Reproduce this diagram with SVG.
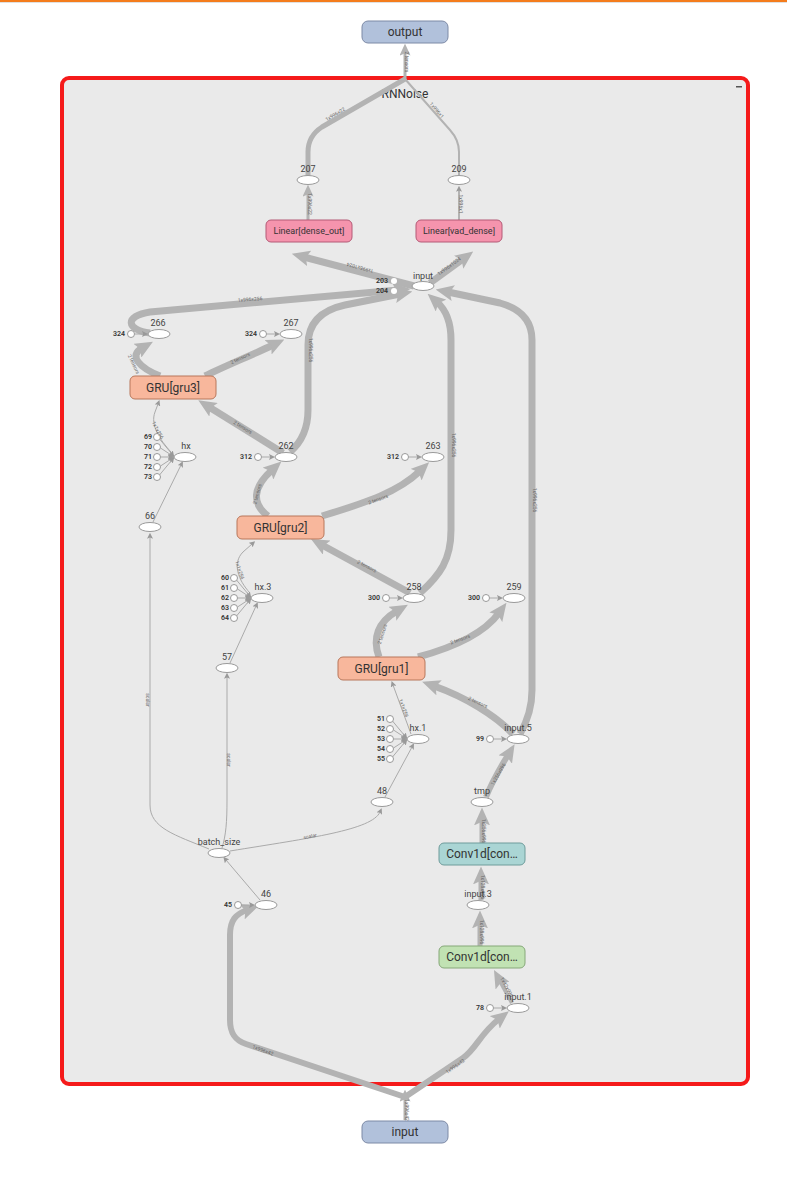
<svg xmlns="http://www.w3.org/2000/svg" width="787" height="1181" viewBox="0 0 787 1181">
  <style>
    text { font-family: Roboto, "Liberation Sans", sans-serif; fill: #333; }
    .op { stroke-width: 1; }
    .io { fill: #b1c1db; stroke: #7d8aa6; }
    .lin { fill: #f594ad; stroke: #b45a76; }
    .gru { fill: #f8b79c; stroke: #b8775b; }
    .cv1 { fill: #aad5d4; stroke: #6e9c9b; }
    .cv0 { fill: #c1e2b3; stroke: #86a879; }
    .nm { font-size: 12px; text-anchor: middle; dominant-baseline: central; }
    .nms { font-size: 9px; text-anchor: middle; dominant-baseline: central; }
    .el { fill: #fff; stroke: #9a9a9a; stroke-width: 1; }
    .lbl { font-size: 9px; text-anchor: middle; fill: #444; }
    .cst { fill: #fff; stroke: #999; stroke-width: 1; }
    .cl { font-size: 7px; font-weight: 600; text-anchor: end; dominant-baseline: central; fill: #333; }
    .e { fill: none; stroke: #b3b3b3; }
    .w7 { stroke-width: 7; }
    .w6 { stroke-width: 6; }
    .w5 { stroke-width: 5; }
    .w4 { stroke-width: 4; }
    .w3 { stroke-width: 3; }
    .w2 { stroke-width: 2; }
    .w1 { stroke-width: 1; stroke: #aaa; }
    .el-t { font-size: 5px; fill: #666; text-anchor: middle; dominant-baseline: central; }
  </style>
  <defs>
    <marker id="ab" viewBox="0 0 10 10" refX="3" refY="5" markerWidth="18" markerHeight="16" markerUnits="userSpaceOnUse" orient="auto" preserveAspectRatio="none">
      <path d="M0,0 L10,5 L0,10 L2,5 z" fill="#b3b3b3"/>
    </marker>
    <marker id="am" viewBox="0 0 10 10" refX="3" refY="5" markerWidth="12" markerHeight="11" markerUnits="userSpaceOnUse" orient="auto" preserveAspectRatio="none">
      <path d="M0,0 L10,5 L0,10 L2,5 z" fill="#b3b3b3"/>
    </marker>
    <marker id="as" viewBox="0 0 10 10" refX="3" refY="5" markerWidth="6" markerHeight="6" markerUnits="userSpaceOnUse" orient="auto" preserveAspectRatio="none">
      <path d="M0,0 L10,5 L0,10 L2,5 z" fill="#999"/>
    </marker>
    <!-- constant input feeding an op ellipse from the left -->
    <g id="k1">
      <circle class="cst" cx="-28" cy="0" r="3.5"/>
      <path class="e w1" d="M-24.5,0 L-15.2,0" marker-end="url(#as)"/>
    </g>
    <!-- five constant inputs fanning into an op ellipse -->
    <g id="k5">
      <circle class="cst" cx="-28" cy="-20" r="3.5"/>
      <circle class="cst" cx="-28" cy="-10" r="3.5"/>
      <circle class="cst" cx="-28" cy="0" r="3.5"/>
      <circle class="cst" cx="-28" cy="10" r="3.5"/>
      <circle class="cst" cx="-28" cy="20" r="3.5"/>
      <path class="e w1" d="M-25.5,-18 L-13.4,-3.4" marker-end="url(#as)"/>
      <path class="e w1" d="M-24.5,-9 L-14.4,-2.4" marker-end="url(#as)"/>
      <path class="e w1" d="M-24.5,0 L-15.2,0" marker-end="url(#as)"/>
      <path class="e w1" d="M-24.5,9 L-14.4,2.4" marker-end="url(#as)"/>
      <path class="e w1" d="M-25.5,18 L-13.4,3.4" marker-end="url(#as)"/>
    </g>
  </defs>

  <rect x="0" y="0" width="787" height="1181" fill="#fff"/>
  <rect x="0" y="0" width="787" height="2" fill="#f47c1c"/>
  <rect x="0" y="2" width="787" height="1" fill="#e0e0e0"/>

  <!-- RNNoise module -->
  <g id="RNNoise">
    <rect x="62" y="78" width="686" height="1006" rx="7" fill="#eaeaea" stroke="#f51a1a" stroke-width="4"/>
    <text x="405" y="98" font-size="12" text-anchor="middle">RNNoise</text>
    <rect x="736" y="86" width="6" height="1.5" fill="#555"/>
  </g>

  <!-- connectors -->
  <g id="edges">
    <path class="e w3" d="M405,80 L405,52" marker-end="url(#am)"/>
    <path class="e w5" d="M308,176 L308,152 Q308,136 322,127 L405,79"/>
    <path class="e w2" d="M459,176 L459,152 Q459,140 450,130 L405,79"/>
    <path class="e w3" d="M308,220 L308,193" marker-end="url(#am)"/>
    <path class="e w2" d="M459,220 L459,190" marker-end="url(#as)"/>

    <path class="e w7" d="M414,286 L304,257" marker-end="url(#ab)"/>
    <path class="e w7" d="M430,283 L463,259" marker-end="url(#ab)"/>
    <path class="e w7" d="M150,333 C126,330 124,316 150,312 L398,290" marker-end="url(#ab)"/>
    <path class="e w7" d="M290,452 C304,440 308,425 308,410 L308,345 C308,322 322,310 345,305 L400,294" marker-end="url(#ab)"/>
    <path class="e w7" d="M420,593 C440,575 451,560 451,530 L451,340 C451,322 446,310 437,302" marker-end="url(#ab)"/>
    <path class="e w7" d="M520,734 C528,720 532,705 532,690 L532,340 C532,318 518,308 500,303 L448,292" marker-end="url(#ab)"/>

    <path class="e w7" d="M160,376 C140,368 128,356 142,348" marker-end="url(#ab)"/>
    <path class="e w7" d="M205,376 C225,366 250,356 273,345" marker-end="url(#ab)"/>
    <path class="e w7" d="M283,453 L209,407" marker-end="url(#ab)"/>
    <path class="e w1" d="M171,452 C160,440 150,425 155,412 L158,404" marker-end="url(#as)"/>
    <path class="e w1" d="M153,522 L181,465" marker-end="url(#as)"/>

    <path class="e w7" d="M268,516 C252,504 252,488 272,470" marker-end="url(#ab)"/>
    <path class="e w7" d="M322,516 C368,502 398,492 420,471" marker-end="url(#ab)"/>
    <path class="e w7" d="M410,593 L322,545" marker-end="url(#ab)"/>
    <path class="e w1" d="M250,593 C238,580 232,563 243,552 L252,544" marker-end="url(#as)"/>
    <path class="e w1" d="M230,663 L256,606" marker-end="url(#as)"/>

    <path class="e w7" d="M379,657 C372,638 378,622 397,611" marker-end="url(#ab)"/>
    <path class="e w7" d="M418,657 C455,647 485,632 499,613" marker-end="url(#ab)"/>
    <path class="e w7" d="M513,734 C495,715 465,697 434,686" marker-end="url(#ab)"/>
    <path class="e w1" d="M411,734 L393,685" marker-end="url(#as)"/>
    <path class="e w1" d="M385,797 L412,747" marker-end="url(#as)"/>

    <path class="e w6" d="M486,797 C492,782 500,768 508,755" marker-end="url(#ab)"/>
    <path class="e w5" d="M482,843 L482,820" marker-end="url(#ab)"/>
    <path class="e w5" d="M481,900 L481,879" marker-end="url(#ab)"/>
    <path class="e w5" d="M480,946 L480,923" marker-end="url(#ab)"/>
    <path class="e w4" d="M512,1003 L500,981" marker-end="url(#ab)"/>

    <path class="e w1" d="M209,849 C175,835 150,828 150,805 L150,537" marker-end="url(#as)"/>
    <path class="e w1" d="M222,848 C226,835 227,822 227,800 L227,677" marker-end="url(#as)"/>
    <path class="e w1" d="M230,851 C310,838 372,830 380,812" marker-end="url(#as)"/>
    <path class="e w1" d="M260,900 L226,860" marker-end="url(#as)"/>

    <path class="e w6" d="M405,1097 L246,1044 C234,1040 230,1032 230,1020 L230,935 C230,920 236,914 247,910" marker-end="url(#ab)"/>
    <path class="e w6" d="M405,1097 L463,1058 C476,1049 480,1034 499,1019" marker-end="url(#ab)"/>
    <path class="e w3" d="M405,1120 L405,1098" marker-end="url(#am)"/>

    <!-- constant inputs -->
    <use href="#k1" x="159" y="334"/>
    <use href="#k1" x="291" y="334"/>
    <use href="#k1" x="286" y="457"/>
    <use href="#k1" x="433" y="457"/>
    <use href="#k1" x="414" y="598"/>
    <use href="#k1" x="514" y="598"/>
    <use href="#k1" x="518" y="739"/>
    <use href="#k1" x="518" y="1008"/>
    <use href="#k1" x="266" y="905"/>
    <use href="#k5" x="185" y="457"/>
    <use href="#k5" x="262" y="598"/>
    <use href="#k5" x="418" y="739"/>

    <!-- tensor shape labels -->
    <text class="el-t" transform="translate(407,62) rotate(90)">2 tensors</text>
    <text class="el-t" transform="translate(335,114) rotate(-31)">1x996x22</text>
    <text class="el-t" transform="translate(437,110) rotate(50)">1x996x1</text>
    <text class="el-t" transform="translate(310,204) rotate(90)">1x996x22</text>
    <text class="el-t" transform="translate(461,204) rotate(90)">1x996x1</text>
    <text class="el-t" transform="translate(360,268) rotate(195)">1x996x1024</text>
    <text class="el-t" transform="translate(449,266) rotate(-36)">1x996x1024</text>
    <text class="el-t" transform="translate(250,299) rotate(-5)">1x996x256</text>
    <text class="el-t" transform="translate(311,350) rotate(90)">1x996x256</text>
    <text class="el-t" transform="translate(454,445) rotate(90)">1x996x256</text>
    <text class="el-t" transform="translate(535,500) rotate(90)">1x996x256</text>
    <text class="el-t" transform="translate(134,364) rotate(65)">2 tensors</text>
    <text class="el-t" transform="translate(240,358) rotate(-25)">2 tensors</text>
    <text class="el-t" transform="translate(243,427) rotate(32)">2 tensors</text>
    <text class="el-t" transform="translate(257,494) rotate(-75)">2 tensors</text>
    <text class="el-t" transform="translate(378,499) rotate(-20)">2 tensors</text>
    <text class="el-t" transform="translate(367,566) rotate(28)">2 tensors</text>
    <text class="el-t" transform="translate(382,634) rotate(-72)">2 tensors</text>
    <text class="el-t" transform="translate(460,639) rotate(-20)">2 tensors</text>
    <text class="el-t" transform="translate(478,702) rotate(25)">2 tensors</text>
    <text class="el-t" transform="translate(158,430) rotate(62)">1x1x256</text>
    <text class="el-t" transform="translate(240,570) rotate(72)">1x1x256</text>
    <text class="el-t" transform="translate(404,708) rotate(70)">1x1x256</text>
    <text class="el-t" transform="translate(498,774) rotate(-60)">1x256x996</text>
    <text class="el-t" transform="translate(484,831) rotate(90)">1x256x996</text>
    <text class="el-t" transform="translate(483,887) rotate(90)">1x128x996</text>
    <text class="el-t" transform="translate(482,932) rotate(90)">1x128x996</text>
    <text class="el-t" transform="translate(507,987) rotate(62)">1x42x996</text>
    <text class="el-t" transform="translate(148,700) rotate(90)">scalar</text>
    <text class="el-t" transform="translate(229,760) rotate(90)">scalar</text>
    <text class="el-t" transform="translate(310,836) rotate(-10)">scalar</text>
    <text class="el-t" transform="translate(263,1050) rotate(20)">1x996x42</text>
    <text class="el-t" transform="translate(455,1066) rotate(-35)">1x996x42</text>
    <text class="el-t" transform="translate(407,1110) rotate(90)">1x996x42</text>
  </g>

  <!-- graph inputs / outputs -->
  <g id="output"><rect class="io" x="362" y="21" width="86" height="22" rx="6"/><text class="nm" x="405" y="32">output</text></g>
  <g id="input"><rect class="io" x="362" y="1121" width="86" height="22" rx="6"/><text class="nm" x="405" y="1132">input</text></g>

  <!-- modules -->
  <g id="dense_out"><rect class="lin" x="266" y="220" width="86" height="22" rx="5"/><text class="nms" x="309" y="231">Linear[dense_out]</text></g>
  <g id="vad_dense"><rect class="lin" x="416" y="220" width="86" height="22" rx="5"/><text class="nms" x="459" y="231">Linear[vad_dense]</text></g>
  <g id="gru3"><rect class="gru" x="130" y="376" width="86" height="23" rx="5"/><text class="nm" x="173" y="387.5">GRU[gru3]</text></g>
  <g id="gru2"><rect class="gru" x="237" y="516" width="87" height="23" rx="5"/><text class="nm" x="280.5" y="527.5">GRU[gru2]</text></g>
  <g id="gru1"><rect class="gru" x="338" y="657" width="87" height="23" rx="5"/><text class="nm" x="381.5" y="668.5">GRU[gru1]</text></g>
  <g id="conv2"><rect class="cv1" x="439" y="843" width="86" height="22" rx="5"/><text class="nm" x="482" y="854">Conv1d[con…</text></g>
  <g id="conv1"><rect class="cv0" x="439" y="946" width="86" height="22" rx="5"/><text class="nm" x="482" y="957">Conv1d[con…</text></g>

  <!-- ops -->
  <g id="n207"><ellipse class="el" cx="308" cy="180" rx="11" ry="4.5"/><text class="lbl" x="308" y="172">207</text></g>
  <g id="n209"><ellipse class="el" cx="459" cy="180" rx="11" ry="4.5"/><text class="lbl" x="459" y="172">209</text></g>
  <g id="n_input">
    <ellipse class="el" cx="423" cy="286" rx="11" ry="4.5"/><text class="lbl" x="423" y="279">input</text>
    <circle cx="394" cy="281" r="3" fill="#fff"/><text class="cl" x="388" y="281">203</text>
    <circle cx="394" cy="291" r="3" fill="#fff"/><text class="cl" x="388" y="291">204</text>
  </g>
  <g id="n266"><ellipse class="el" cx="159" cy="334" rx="11" ry="4.5"/><text class="lbl" x="158" y="326">266</text><text class="cl" x="125" y="334">324</text></g>
  <g id="n267"><ellipse class="el" cx="291" cy="334" rx="11" ry="4.5"/><text class="lbl" x="291" y="326">267</text><text class="cl" x="257" y="334">324</text></g>
  <g id="hx">
    <ellipse class="el" cx="185" cy="457" rx="11" ry="4.5"/><text class="lbl" x="186" y="449">hx</text>
    <text class="cl" x="152" y="437">69</text><text class="cl" x="152" y="447">70</text><text class="cl" x="152" y="457">71</text><text class="cl" x="152" y="467">72</text><text class="cl" x="152" y="477">73</text>
  </g>
  <g id="n262"><ellipse class="el" cx="286" cy="457" rx="11" ry="4.5"/><text class="lbl" x="286" y="449">262</text><text class="cl" x="252" y="457">312</text></g>
  <g id="n263"><ellipse class="el" cx="433" cy="457" rx="11" ry="4.5"/><text class="lbl" x="433" y="449">263</text><text class="cl" x="399" y="457">312</text></g>
  <g id="n66"><ellipse class="el" cx="150" cy="527" rx="11" ry="4.5"/><text class="lbl" x="150" y="519">66</text></g>
  <g id="hx3">
    <ellipse class="el" cx="262" cy="598" rx="11" ry="4.5"/><text class="lbl" x="263" y="590">hx.3</text>
    <text class="cl" x="229" y="578">60</text><text class="cl" x="229" y="588">61</text><text class="cl" x="229" y="598">62</text><text class="cl" x="229" y="608">63</text><text class="cl" x="229" y="618">64</text>
  </g>
  <g id="n258"><ellipse class="el" cx="414" cy="598" rx="11" ry="4.5"/><text class="lbl" x="414" y="590">258</text><text class="cl" x="380" y="598">300</text></g>
  <g id="n259"><ellipse class="el" cx="514" cy="598" rx="11" ry="4.5"/><text class="lbl" x="514" y="590">259</text><text class="cl" x="480" y="598">300</text></g>
  <g id="n57"><ellipse class="el" cx="227" cy="668" rx="11" ry="4.5"/><text class="lbl" x="227" y="660">57</text></g>
  <g id="hx1">
    <ellipse class="el" cx="418" cy="739" rx="11" ry="4.5"/><text class="lbl" x="418" y="731">hx.1</text>
    <text class="cl" x="385" y="719">51</text><text class="cl" x="385" y="729">52</text><text class="cl" x="385" y="739">53</text><text class="cl" x="385" y="749">54</text><text class="cl" x="385" y="759">55</text>
  </g>
  <g id="input5"><ellipse class="el" cx="518" cy="739" rx="11" ry="4.5"/><text class="lbl" x="518" y="731">input.5</text><text class="cl" x="484" y="739">99</text></g>
  <g id="n48"><ellipse class="el" cx="382" cy="802" rx="11" ry="4.5"/><text class="lbl" x="382" y="794">48</text></g>
  <g id="tmp"><ellipse class="el" cx="482" cy="802" rx="11" ry="4.5"/><text class="lbl" x="482" y="794">tmp</text></g>
  <g id="batch_size"><ellipse class="el" cx="219" cy="853" rx="11" ry="4.5"/><text class="lbl" x="219" y="845">batch_size</text></g>
  <g id="n46"><ellipse class="el" cx="266" cy="905" rx="11" ry="4.5"/><text class="lbl" x="266" y="897">46</text><text class="cl" x="232" y="905">45</text></g>
  <g id="input3"><ellipse class="el" cx="478" cy="905" rx="11" ry="4.5"/><text class="lbl" x="478" y="897">input.3</text></g>
  <g id="input1"><ellipse class="el" cx="518" cy="1008" rx="11" ry="4.5"/><text class="lbl" x="518" y="1000">input.1</text><text class="cl" x="484" y="1008">78</text></g>
</svg>
